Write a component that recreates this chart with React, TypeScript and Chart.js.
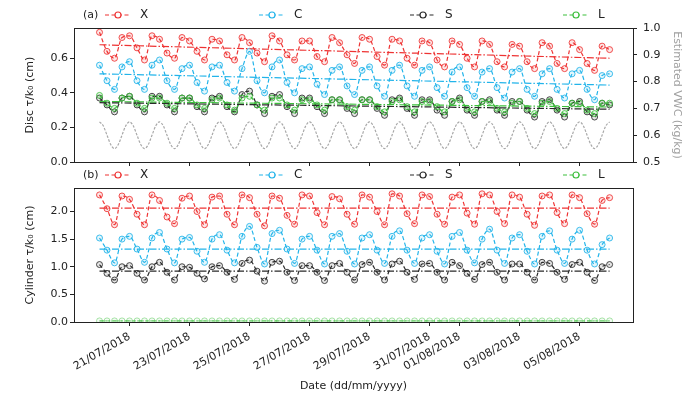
import React, { useEffect, useRef } from "react";
import { Chart, registerables } from "chart.js";
Chart.register(...registerables);

// ---------- data ----------
const STEP_DAYS = 0.25; // 6-hourly samples from 20/07/2018 00:00
const VWC_STEP_DAYS = 0.125; // 3-hourly samples of estimated VWC
const tickDays = [1, 3, 5, 7, 9, 11, 12, 14, 16];
const tickLabels = [
  "21/07/2018", "23/07/2018", "25/07/2018", "27/07/2018", "29/07/2018",
  "31/07/2018", "01/08/2018", "03/08/2018", "05/08/2018",
];
const seriesNames = ["X", "C", "S", "L"];
const seriesColors = ["#ee3333", "#22b4ea", "#2a2a2a", "#3cbf3c"];
const vwcColor = "#a8a8a8";

const discTicks = [0, 0.2, 0.4, 0.6];
const vwcTicks = [0.5, 0.6, 0.7, 0.8, 0.9, 1.0];
const cylTicks = [0, 0.5, 1.0, 1.5, 2.0];

const discX = [
  0.75, 0.64, 0.60, 0.72, 0.73, 0.66, 0.59, 0.73, 0.71, 0.63, 0.60, 0.72,
  0.70, 0.64, 0.59, 0.71, 0.70, 0.62, 0.59, 0.72, 0.69, 0.63, 0.58, 0.73,
  0.70, 0.62, 0.59, 0.70, 0.70, 0.61, 0.58, 0.72, 0.69, 0.62, 0.57, 0.72,
  0.71, 0.61, 0.56, 0.71, 0.70, 0.60, 0.56, 0.70, 0.69, 0.59, 0.55, 0.70,
  0.68, 0.60, 0.55, 0.70, 0.68, 0.58, 0.55, 0.68, 0.67, 0.58, 0.54, 0.69,
  0.67, 0.57, 0.54, 0.69, 0.65, 0.57, 0.53, 0.67, 0.65,
];
const discC = [
  0.56, 0.47, 0.42, 0.55, 0.58, 0.47, 0.42, 0.56, 0.59, 0.47, 0.42, 0.54,
  0.56, 0.46, 0.41, 0.55, 0.56, 0.46, 0.41, 0.54, 0.64, 0.47, 0.40, 0.55,
  0.59, 0.46, 0.40, 0.54, 0.55, 0.45, 0.39, 0.53, 0.55, 0.44, 0.39, 0.53,
  0.55, 0.44, 0.38, 0.53, 0.56, 0.44, 0.38, 0.53, 0.55, 0.43, 0.38, 0.52,
  0.55, 0.43, 0.38, 0.52, 0.54, 0.43, 0.37, 0.52, 0.54, 0.42, 0.38, 0.51,
  0.54, 0.42, 0.37, 0.51, 0.53, 0.42, 0.36, 0.50, 0.51,
];
const discS = [
  0.37, 0.33, 0.29, 0.37, 0.38, 0.33, 0.29, 0.38, 0.38, 0.33, 0.29, 0.37,
  0.37, 0.32, 0.29, 0.37, 0.38, 0.32, 0.29, 0.39, 0.41, 0.33, 0.28, 0.38,
  0.39, 0.32, 0.28, 0.37, 0.37, 0.32, 0.28, 0.36, 0.36, 0.31, 0.28, 0.36,
  0.36, 0.31, 0.27, 0.36, 0.37, 0.31, 0.27, 0.36, 0.36, 0.30, 0.27, 0.35,
  0.37, 0.30, 0.27, 0.35, 0.36, 0.30, 0.27, 0.35, 0.35, 0.30, 0.26, 0.35,
  0.36, 0.30, 0.26, 0.34, 0.35, 0.29, 0.26, 0.34, 0.33,
];
const discL = [
  0.385, 0.34, 0.31, 0.37, 0.38, 0.34, 0.31, 0.37, 0.37, 0.34, 0.31, 0.37,
  0.37, 0.33, 0.31, 0.36, 0.37, 0.33, 0.30, 0.37, 0.38, 0.33, 0.30, 0.37,
  0.37, 0.33, 0.30, 0.36, 0.36, 0.33, 0.30, 0.36, 0.36, 0.32, 0.30, 0.36,
  0.36, 0.32, 0.29, 0.35, 0.36, 0.32, 0.29, 0.35, 0.35, 0.32, 0.29, 0.35,
  0.36, 0.31, 0.29, 0.35, 0.35, 0.31, 0.29, 0.34, 0.35, 0.31, 0.28, 0.34,
  0.35, 0.31, 0.28, 0.34, 0.34, 0.30, 0.28, 0.34, 0.34,
];
const vwc = [
  0.65, 0.635, 0.60, 0.565, 0.55, 0.565, 0.60, 0.635,
  0.65, 0.635, 0.60, 0.565, 0.55, 0.565, 0.60, 0.635,
  0.65, 0.635, 0.60, 0.565, 0.55, 0.565, 0.60, 0.635,
  0.65, 0.635, 0.60, 0.565, 0.55, 0.565, 0.60, 0.635,
  0.65, 0.635, 0.60, 0.565, 0.55, 0.565, 0.60, 0.635,
  0.65, 0.635, 0.60, 0.565, 0.55, 0.565, 0.60, 0.635,
  0.65, 0.635, 0.60, 0.565, 0.55, 0.565, 0.60, 0.635,
  0.65, 0.635, 0.60, 0.565, 0.55, 0.565, 0.60, 0.635,
  0.65, 0.635, 0.60, 0.565, 0.55, 0.565, 0.60, 0.635,
  0.65, 0.635, 0.60, 0.565, 0.55, 0.565, 0.60, 0.635,
  0.65, 0.635, 0.60, 0.565, 0.55, 0.565, 0.60, 0.635,
  0.65, 0.635, 0.60, 0.565, 0.55, 0.565, 0.60, 0.635,
  0.65, 0.635, 0.60, 0.565, 0.55, 0.565, 0.60, 0.635,
  0.65, 0.635, 0.60, 0.565, 0.55, 0.565, 0.60, 0.635,
  0.65, 0.635, 0.60, 0.565, 0.55, 0.565, 0.60, 0.635,
  0.65, 0.635, 0.60, 0.565, 0.55, 0.565, 0.60, 0.635,
  0.65, 0.635, 0.60, 0.565, 0.55, 0.565, 0.60, 0.635,
  0.65,
];
const cylX = [
  2.30, 2.05, 1.76, 2.28, 2.22, 1.95, 1.76, 2.30, 2.20, 1.90, 1.78, 2.24,
  2.28, 2.00, 1.76, 2.26, 2.28, 1.95, 1.76, 2.30, 2.25, 1.95, 1.74, 2.28,
  2.24, 1.93, 1.77, 2.30, 2.28, 1.98, 1.76, 2.27, 2.23, 1.95, 1.77, 2.30,
  2.26, 2.00, 1.76, 2.32, 2.28, 1.96, 1.78, 2.30, 2.27, 1.95, 1.77, 2.26,
  2.30, 1.97, 1.77, 2.32, 2.30, 2.00, 1.78, 2.30, 2.26, 1.95, 1.75, 2.28,
  2.30, 1.98, 1.78, 2.30, 2.25, 1.96, 1.77, 2.20, 2.25,
];
const cylC = [
  1.52, 1.30, 1.07, 1.50, 1.55, 1.32, 1.08, 1.52, 1.62, 1.32, 1.07, 1.50,
  1.53, 1.28, 1.08, 1.50, 1.58, 1.30, 1.07, 1.55, 1.73, 1.35, 1.05, 1.60,
  1.66, 1.32, 1.06, 1.50, 1.55, 1.30, 1.05, 1.55, 1.60, 1.28, 1.05, 1.52,
  1.58, 1.30, 1.06, 1.55, 1.65, 1.30, 1.06, 1.52, 1.58, 1.28, 1.05, 1.55,
  1.62, 1.30, 1.07, 1.50, 1.68, 1.30, 1.06, 1.52, 1.58, 1.28, 1.05, 1.55,
  1.65, 1.30, 1.06, 1.50, 1.66, 1.30, 1.05, 1.40, 1.52,
];
const cylS = [
  1.04, 0.88, 0.76, 1.00, 1.02, 0.88, 0.76, 1.00, 1.08, 0.90, 0.76, 1.00,
  0.99, 0.88, 0.78, 1.00, 1.02, 0.90, 0.77, 1.06, 1.12, 0.92, 0.74, 1.08,
  1.10, 0.90, 0.75, 1.02, 1.02, 0.90, 0.75, 1.02, 1.06, 0.90, 0.76, 1.04,
  1.08, 0.90, 0.76, 1.05, 1.10, 0.90, 0.77, 1.05, 1.06, 0.90, 0.76, 1.08,
  1.02, 0.88, 0.77, 1.04, 1.08, 0.90, 0.76, 1.05, 1.05, 0.90, 0.76, 1.08,
  1.06, 0.90, 0.77, 1.04, 1.08, 0.90, 0.75, 1.00, 1.04,
];
const cylL = [
  0.02, 0.02, 0.02, 0.02, 0.02, 0.02, 0.02, 0.02, 0.02, 0.02, 0.02, 0.02,
  0.02, 0.02, 0.02, 0.02, 0.02, 0.02, 0.02, 0.02, 0.02, 0.02, 0.02, 0.02,
  0.02, 0.02, 0.02, 0.02, 0.02, 0.02, 0.02, 0.02, 0.02, 0.02, 0.02, 0.02,
  0.02, 0.02, 0.02, 0.02, 0.02, 0.02, 0.02, 0.02, 0.02, 0.02, 0.02, 0.02,
  0.02, 0.02, 0.02, 0.02, 0.02, 0.02, 0.02, 0.02, 0.02, 0.02, 0.02, 0.02,
  0.02, 0.02, 0.02, 0.02, 0.02, 0.02, 0.02, 0.02, 0.02,
];
// linear trend lines: [start, end]
const discTrendX = [0.678, 0.6];
const discTrendC = [0.51, 0.445];
const discTrendS = [0.343, 0.305];
const discTrendL = [0.35, 0.318];
const cylTrendX = [2.06, 2.06];
const cylTrendC = [1.32, 1.32];
const cylTrendS = [0.92, 0.92];
const cylTrendL = [0.02, 0.02];

// ---------- helpers ----------
const FONT = "'DejaVu Sans', 'Liberation Sans', sans-serif";
const TXT = "#222";
const X_MIN = -0.85;
const X_MAX = 17.78;

const toPts = (vals: number[], step = STEP_DAYS) => vals.map((v, i) => ({ x: i * step, y: v }));
const trendPts = (tr: number[], n: number) => [
  { x: 0, y: tr[0] },
  { x: (n - 1) * STEP_DAYS, y: tr[1] },
];

const alpha = (hex: string, a: number) => {
  const r = parseInt(hex.slice(1, 3), 16);
  const g = parseInt(hex.slice(3, 5), 16);
  const b = parseInt(hex.slice(5, 7), 16);
  return `rgba(${r},${g},${b},${a})`;
};

const seriesDs = (vals: number[], color: string, yAxisID = "y", a = 1) => ({
  data: toPts(vals),
  borderColor: alpha(color, a),
  borderWidth: 1.2,
  borderDash: [4, 2.5],
  cubicInterpolationMode: "monotone",
  tension: 0.4,
  pointRadius: 3,
  pointBorderWidth: 1,
  pointBorderColor: alpha(color, a * 0.85),
  pointBackgroundColor: alpha(color, 0.12 * a),
  yAxisID,
});
const trendDs = (tr: number[], n: number, color: string, a = 1) => ({
  data: trendPts(tr, n),
  borderColor: alpha(color, a),
  borderWidth: 1.2,
  borderDash: [7, 2, 1.5, 2],
  pointRadius: 0,
  tension: 0,
  yAxisID: "y",
});

const framePlugin = {
  id: "frame",
  afterDraw(chart: any) {
    const { ctx, chartArea: a } = chart;
    ctx.save();
    ctx.strokeStyle = TXT;
    ctx.lineWidth = 1;
    ctx.setLineDash([]);
    ctx.strokeRect(Math.round(a.left) + 0.5, Math.round(a.top) + 0.5, Math.round(a.right - a.left), Math.round(a.bottom - a.top));
    ctx.restore();
  },
};

const legendPlugin = (tag: string, y: number) => ({
  id: "customLegend",
  afterDraw(chart: any) {
    const { ctx } = chart;
    const xs = [105, 259, 410, 563];
    ctx.save();
    ctx.font = `11px ${FONT}`;
    ctx.fillStyle = TXT;
    ctx.textBaseline = "middle";
    ctx.textAlign = "left";
    ctx.fillText(tag, 83, y);
    seriesNames.forEach((name, i) => {
      const x = xs[i];
      const c = seriesColors[i];
      ctx.strokeStyle = c;
      ctx.lineWidth = 1.2;
      ctx.setLineDash([4, 2.5]);
      ctx.beginPath();
      ctx.moveTo(x, y);
      ctx.lineTo(x + 26, y);
      ctx.stroke();
      ctx.setLineDash([]);
      ctx.beginPath();
      ctx.arc(x + 13, y, 3, 0, Math.PI * 2);
      ctx.fillStyle = "#fff";
      ctx.fill();
      ctx.stroke();
      ctx.fillStyle = TXT;
      ctx.font = `12px ${FONT}`;
      ctx.fillText(name, x + 35, y);
    });
    ctx.restore();
  },
});

const fixedTicks = (vals: number[]) => (s: any) => {
  s.ticks = vals.map((v) => ({ value: v }));
};
const tickFont = { family: FONT, size: 11 };
const gridOpts = { drawOnChartArea: false, drawTicks: true, tickLength: 4, color: TXT };

const xAxis = (showLabels: boolean, height: number) => ({
  type: "linear",
  min: X_MIN,
  max: X_MAX,
  afterBuildTicks: fixedTicks(tickDays),
  afterFit: (s: any) => {
    s.height = height;
    s.paddingLeft = 0;
    s.paddingRight = 0;
  },
  grid: gridOpts,
  border: { display: false },
  ticks: {
    display: showLabels,
    autoSkip: false,
    minRotation: 30,
    maxRotation: 30,
    padding: 4,
    color: TXT,
    font: tickFont,
    callback: (v: number) => {
      const k = tickDays.indexOf(v);
      return k >= 0 ? tickLabels[k] : "";
    },
  },
  title: showLabels
    ? { display: true, text: "Date (dd/mm/yyyy)", color: TXT, font: { family: FONT, size: 11 }, padding: { top: 0, bottom: 9 } }
    : { display: false },
});

const leftY = (max: number, ticks: number[], title: string) => ({
  type: "linear",
  position: "left",
  min: 0,
  max,
  afterBuildTicks: fixedTicks(ticks),
  afterFit: (s: any) => {
    s.width = 74;
    s.paddingTop = 0;
    s.paddingBottom = 0;
  },
  grid: gridOpts,
  border: { display: false },
  ticks: { padding: 2, color: TXT, font: tickFont, callback: (v: number) => v.toFixed(1) },
  title: { display: true, text: title, color: TXT, font: { family: FONT, size: 11 }, padding: { top: 24, bottom: 0 } },
});

export default function App() {
  const topRef = useRef<HTMLCanvasElement>(null);
  const botRef = useRef<HTMLCanvasElement>(null);

  useEffect(() => {
    const nD = discX.length;
    const nC = cylX.length;
    const top = new Chart(topRef.current!, {
      type: "line",
      data: {
        datasets: [
          trendDs(discTrendX, nD, seriesColors[0]),
          trendDs(discTrendC, nD, seriesColors[1]),
          trendDs(discTrendS, nD, seriesColors[2]),
          trendDs(discTrendL, nD, seriesColors[3]),
          seriesDs(discL, seriesColors[3]),
          seriesDs(discS, seriesColors[2]),
          seriesDs(discC, seriesColors[1]),
          seriesDs(discX, seriesColors[0]),
          {
            data: toPts(vwc, VWC_STEP_DAYS),
            borderColor: vwcColor,
            borderWidth: 1.2,
            borderDash: [2.5, 1.5],
            cubicInterpolationMode: "monotone",
            pointRadius: 0,
            yAxisID: "y1",
          },
        ] as any,
      },
      options: {
        responsive: false,
        animation: false,
        devicePixelRatio: 1,
        layout: { padding: { top: 28, left: 0, right: 0, bottom: 0 } },
        plugins: { legend: { display: false }, tooltip: { enabled: false } },
        scales: {
          x: xAxis(false, 6),
          y: leftY(0.775, discTicks, "Disc τ/k₀ (cm)"),
          y1: {
            type: "linear",
            position: "right",
            min: 0.5,
            max: 1.0,
            afterBuildTicks: fixedTicks(vwcTicks),
            afterFit: (s: any) => {
              s.width = 67;
              s.paddingTop = 0;
              s.paddingBottom = 0;
            },
            grid: gridOpts,
            border: { display: false },
            ticks: { padding: 6, color: TXT, font: tickFont, callback: (v: number) => v.toFixed(1) },
            title: { display: true, text: "Estimated VWC (kg/kg)", color: "#a0a0a0", font: { family: FONT, size: 11 }, padding: { top: 17, bottom: 0 } },
          },
        } as any,
      },
      plugins: [framePlugin, legendPlugin("(a)", 15)],
    });

    const bot = new Chart(botRef.current!, {
      type: "line",
      data: {
        datasets: [
          trendDs(cylTrendX, nC, seriesColors[0]),
          trendDs(cylTrendC, nC, seriesColors[1]),
          trendDs(cylTrendS, nC, seriesColors[2]),
          trendDs(cylTrendL, nC, seriesColors[3], 0.5),
          seriesDs(cylL, seriesColors[3], "y", 0.5),
          seriesDs(cylS, seriesColors[2]),
          seriesDs(cylC, seriesColors[1]),
          seriesDs(cylX, seriesColors[0]),
        ] as any,
      },
      options: {
        responsive: false,
        animation: false,
        devicePixelRatio: 1,
        layout: { padding: { top: 20, left: 0, right: 67, bottom: 0 } },
        plugins: { legend: { display: false }, tooltip: { enabled: false } },
        scales: {
          x: xAxis(true, 80),
          y: leftY(2.425, cylTicks, "Cylinder τ/k₀ (cm)"),
        } as any,
      },
      plugins: [framePlugin, legendPlugin("(b)", 7)],
    });

    return () => {
      top.destroy();
      bot.destroy();
    };
  }, []);

  return (
    <div style={{ position: "absolute", left: 0, top: 0, width: 700, height: 402, background: "#fff" }}>
      <canvas ref={topRef} width={700} height={168} style={{ position: "absolute", left: 0, top: 0, width: 700, height: 168 }} />
      <canvas ref={botRef} width={700} height={234} style={{ position: "absolute", left: 0, top: 168, width: 700, height: 234 }} />
    </div>
  );
}
